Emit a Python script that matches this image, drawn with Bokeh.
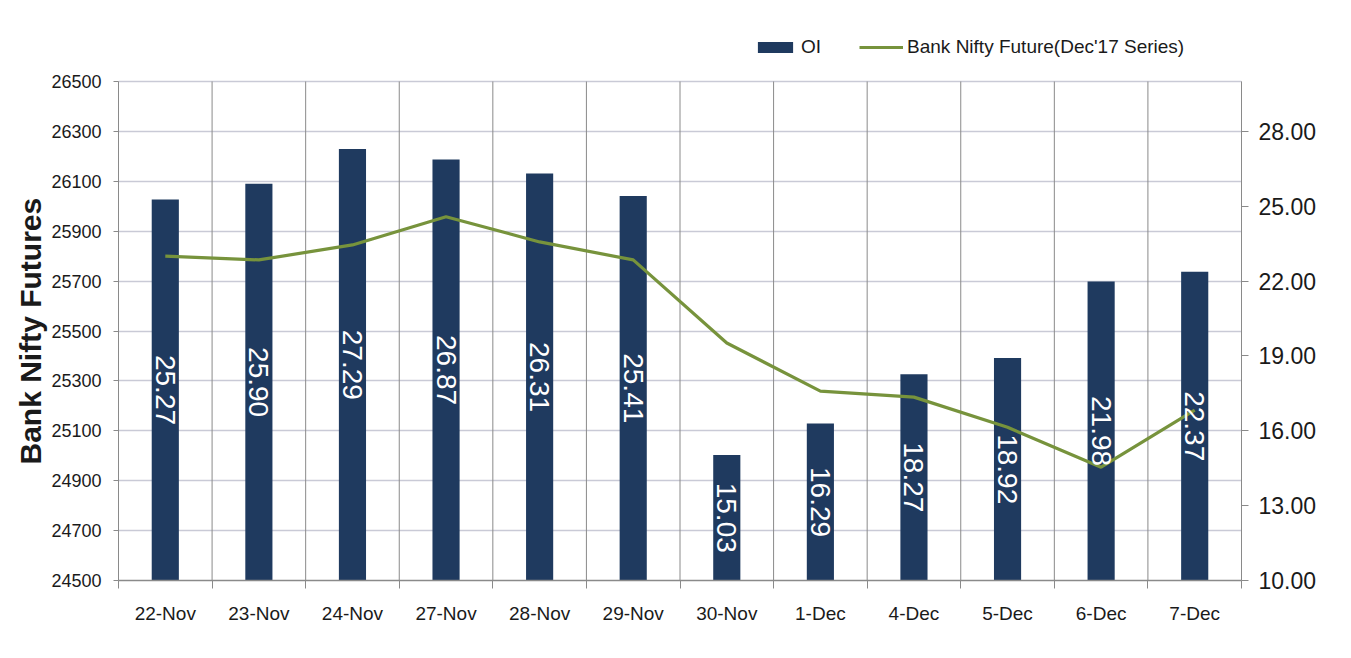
import math
from bokeh.plotting import figure
from bokeh.models import (Range1d, LinearAxis, FixedTicker, Legend, LegendItem,
                          ColumnDataSource, NumeralTickFormatter, Title)
from bokeh.core.properties import value
from bokeh.embed import file_html
from bokeh.resources import INLINE

# ---- data ----
dates = ["22-Nov", "23-Nov", "24-Nov", "27-Nov", "28-Nov", "29-Nov",
         "30-Nov", "1-Dec", "4-Dec", "5-Dec", "6-Dec", "7-Dec"]
oi = [25.27, 25.90, 27.29, 26.87, 26.31, 25.41, 15.03, 16.29, 18.27, 18.92, 21.98, 22.37]
futures = [25800, 25785, 25845, 25958, 25857, 25785, 25452, 25259, 25235, 25114, 24954, 25183]
left_ticks = [24500, 24700, 24900, 25100, 25300, 25500, 25700, 25900, 26100, 26300, 26500]
right_ticks = [10, 13, 16, 19, 22, 25, 28]
right_bounds = (10, 30)
y_title = "Bank Nifty Futures"

FONT = "Liberation Sans"
BAR_COLOR = "#1F3A5F"
LINE_COLOR = "#77933C"
TXT = "#1A1A1A"
GRAY = "#8A8A8A"

# layout (pixels)
W, H = 1335, 642
B_LEFT, B_RIGHT, B_TOP, B_BOTTOM = 118, 94, 10, 62
PLOT_TOP = 81                       # where the plotting area starts (legend lives above)
frame_h = H - B_TOP - B_BOTTOM
plot_h = H - B_BOTTOM - PLOT_TOP
extra = (frame_h - plot_h) / plot_h  # extra headroom fraction for the legend strip

l0, l1 = left_ticks[0], left_ticks[-1]
r0, r1 = right_bounds

x = [i + 0.5 for i in range(len(dates))]
src = ColumnDataSource(dict(
    x=x, oi=oi, fut=futures,
    mid=[(r0 + v) / 2 for v in oi],
    lab=["%.2f" % v for v in oi],
))

p = figure(width=W, height=H, x_range=Range1d(0, len(dates)),
           y_range=Range1d(l0, l1 + (l1 - l0) * extra),
           output_backend="svg", toolbar_location=None,
           min_border_left=B_LEFT, min_border_right=B_RIGHT,
           min_border_top=B_TOP, min_border_bottom=B_BOTTOM)
p.extra_y_ranges = {"oi": Range1d(r0, r1 + (r1 - r0) * extra)}
p.background_fill_color = "white"
p.border_fill_color = "white"
p.outline_line_color = None

# vertical category separators (limited to plotting area)
bx = list(range(len(dates) + 1))
p.segment(x0=bx, y0=[l0] * len(bx), x1=bx, y1=[l1] * len(bx),
          line_color=GRAY, line_width=1)

bars = p.vbar(x="x", top="oi", bottom=r0, width=0.29, source=src,
              y_range_name="oi", fill_color=BAR_COLOR, line_color=None)
line = p.line(x="x", y="fut", source=src, line_color=LINE_COLOR, line_width=3.2)
p.text(x="x", y="mid", text="lab", source=src, y_range_name="oi",
       angle=-math.pi / 2, text_align="center", text_baseline="middle",
       text_color="white", text_font=value(FONT), text_font_size="28px")

# grids
p.ygrid.ticker = FixedTicker(ticks=left_ticks)
p.ygrid.grid_line_color = "#C9CAD6"
p.ygrid.grid_line_width = 1.5
p.xgrid.grid_line_color = None

# x axis
xa = p.xaxis[0]
xa.ticker = FixedTicker(ticks=x, minor_ticks=bx)
xa.major_label_overrides = {xi: d for xi, d in zip(x, dates)}
xa.major_tick_line_color = None
xa.major_tick_out = 0
xa.minor_tick_in = 0
xa.minor_tick_out = 8
xa.minor_tick_line_color = GRAY
xa.axis_line_color = GRAY
xa.axis_line_width = 1.5
xa.major_label_standoff = 14
xa.major_label_text_font = FONT
xa.major_label_text_font_size = "19px"
xa.major_label_text_color = TXT

# left axis
ya = p.yaxis[0]
ya.ticker = FixedTicker(ticks=left_ticks)
ya.bounds = (l0, l1)
ya.major_label_text_font = FONT
ya.major_label_text_font_size = "18px"
ya.major_label_text_color = TXT
ya.major_label_standoff = 12
ya.major_tick_in = 0
ya.major_tick_out = 5
ya.minor_tick_line_color = None
ya.axis_line_color = GRAY
ya.major_tick_line_color = GRAY

# left axis title, centred on the plotting area (not on the legend strip)
title_len = 8.9 * 30
t = Title(text=y_title, align="left",
          offset=int(plot_h / 2 - title_len / 2),
          text_font=FONT, text_font_size="30px", text_font_style="bold",
          text_color=TXT, standoff=4)
p.add_layout(t, "left")

# right axis
ra = LinearAxis(y_range_name="oi", ticker=FixedTicker(ticks=right_ticks),
                formatter=NumeralTickFormatter(format="0.00"), bounds=right_bounds)
ra.major_label_text_font = FONT
ra.major_label_text_font_size = "23px"
ra.major_label_text_color = TXT
ra.major_label_standoff = 10
ra.major_tick_in = 0
ra.major_tick_out = 7
ra.minor_tick_line_color = None
ra.axis_line_color = GRAY
ra.major_tick_line_color = GRAY
p.add_layout(ra, "right")

legend = Legend(items=[LegendItem(label="OI", renderers=[bars]),
                       LegendItem(label="Bank Nifty Future(Dec'17 Series)", renderers=[line])],
                orientation="horizontal", location=(635, 522),
                label_text_font=FONT, label_text_font_size="19px",
                label_text_color=TXT,
                glyph_width=44, glyph_height=14, label_standoff=4, spacing=38,
                padding=0, margin=0, border_line_color=None,
                background_fill_alpha=0)
p.add_layout(legend, "center")

open("out.html", "w").write(file_html(p, INLINE))
